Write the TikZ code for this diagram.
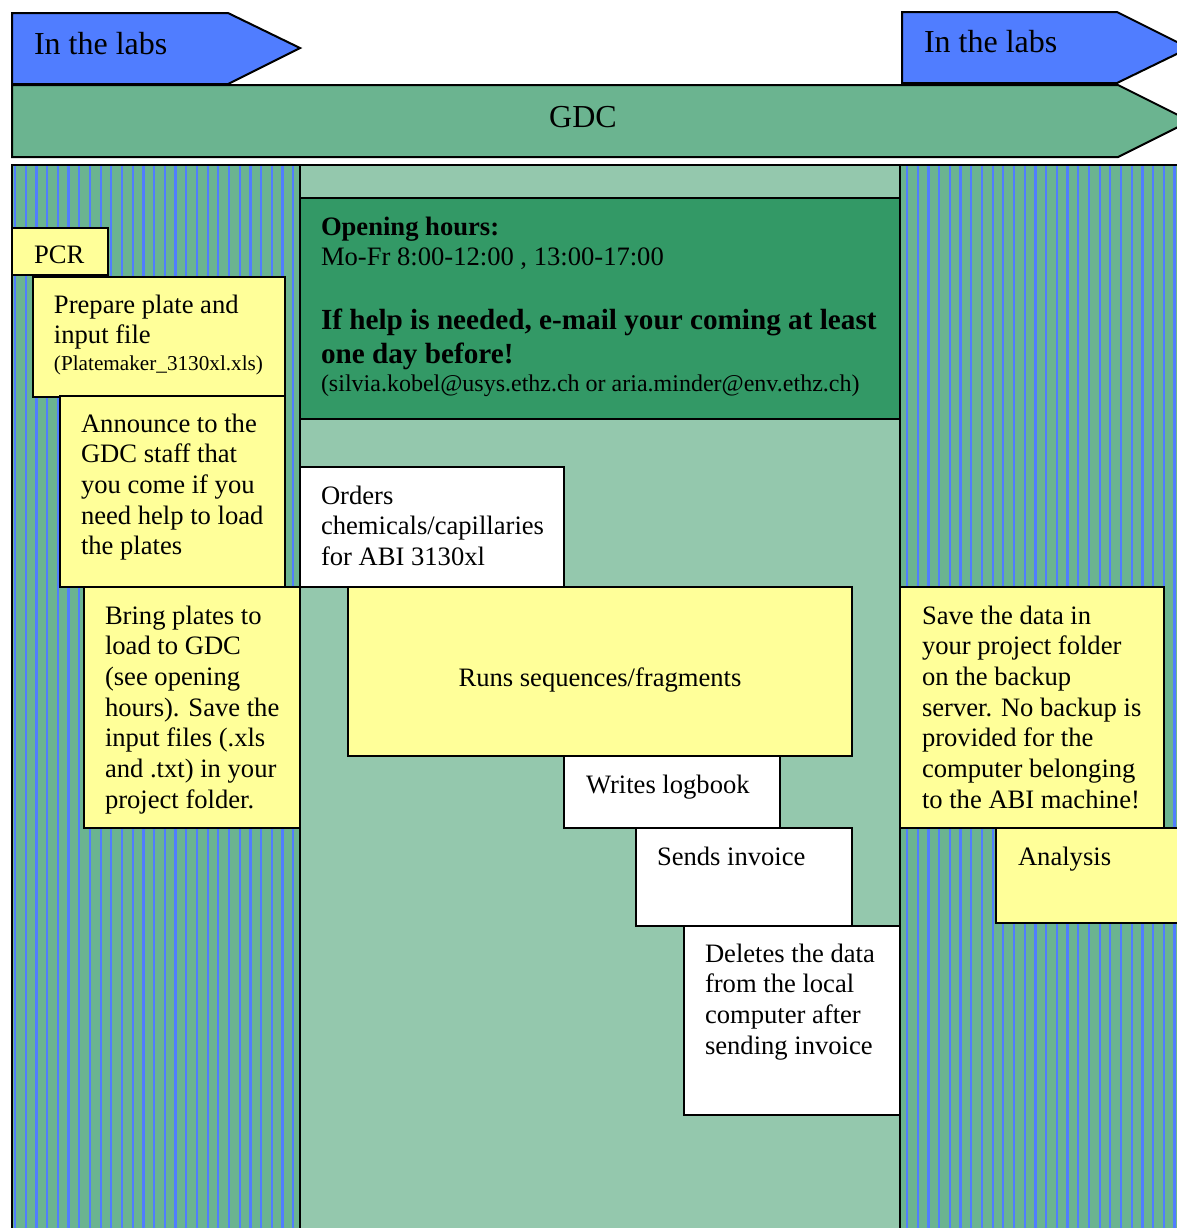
\documentclass[tikz,border=0pt]{standalone}
\usepackage{fontspec}
\setmainfont{Liberation Serif}

\definecolor{labblue}{RGB}{80,125,255}
\definecolor{gdcgreen}{RGB}{107,180,144}
\definecolor{midgreen}{RGB}{148,200,173}
\definecolor{darkgreen}{RGB}{51,153,102}
\definecolor{noteyellow}{RGB}{255,255,153}

% fixed height for the first line of a text block (10pt = 20px above its baseline)
\newcommand{\fl}{\rule{0pt}{10pt}}

\begin{document}
\begin{tikzpicture}[x=0.5pt, y=-0.5pt,
                    line width=1pt,
                    yellow box/.style={draw,fill=noteyellow},
                    white box/.style={draw,fill=white},
                    stripe/.style={labblue,line width=1.1pt},
                    box text/.style={anchor=north west,align=left,inner sep=0pt,
                                     font=\fontsize{13.3}{15.35}\selectfont},
                    big text/.style={inner sep=0pt,font=\fontsize{16}{18.4}\selectfont}]

  \useasboundingbox (0,0) rectangle (1177,1228);
  \clip (0,0) rectangle (1177,1228);
  \fill[white] (0,0) rectangle (1177,1228);

  % arrows at the top
  \draw[fill=labblue] (12,13) -- (228,13) -- (300,48) -- (228,84) -- (12,84) -- cycle;
  \draw[fill=labblue] (902,12) -- (1117,12) -- (1189,48) -- (1117,83) -- (902,83) -- cycle;
  \draw[fill=gdcgreen] (12,85) -- (1118,85) -- (1190,121) -- (1118,157) -- (12,157) -- cycle;
  \node[big text,anchor=base west] (labsL) at (33,54) {In the labs};
  \node[big text,anchor=base west] (labsR) at (923,52) {In the labs};
  \node[big text,anchor=base] (gdc) at (583,127) {GDC};

  % columns
  \fill[midgreen] (300,165) rectangle (900,1240);
  \fill[gdcgreen] (12,165) rectangle (300,1240);
  \fill[gdcgreen] (900,165) rectangle (1190,1240);
  \begin{scope}
    \clip (12,165) rectangle (300,1240);
    \foreach \i in {0,...,26}
      \draw[stripe] ({15+\i*10.7},165) -- ({15+\i*10.7},1240);
  \end{scope}
  \begin{scope}
    \clip (900,165) rectangle (1190,1240);
    \foreach \i in {0,...,26}
      \draw[stripe] ({907+\i*10.7},165) -- ({907+\i*10.7},1240);
  \end{scope}
  \draw (12,1240) -- (12,165) -- (1190,165);
  \draw (300,165) -- (300,1240);
  \draw (900,165) -- (900,1240);

  % opening hours
  \draw[fill=darkgreen] (300,198) rectangle (900,419);
  \node[box text] (hours) at (320,214) {\fl\textbf{Opening hours:}\\Mo-Fr 8:00-12:00 , 13:00-17:00};
  \node[box text,font=\bfseries\fontsize{14.6}{17}\selectfont] (help) at (320,308)
    {\fl If help is needed, e-mail your coming at least\\one day before!};
  \node[box text,font=\fontsize{12}{13.8}\selectfont] (mail) at (320,370)
    {\fl(silvia.kobel@usys.ethz.ch or aria.minder@env.ethz.ch)};

  % in the labs, before
  \draw[yellow box] (12,228) rectangle (108,275);
  \node[box text] (pcr) at (33,242) {\fl PCR};
  \draw[yellow box] (33,277) rectangle (285,397);
  \node[box text] (prep) at (53,292) {\fl Prepare plate and\\input file};
  \node[box text,font=\fontsize{10.6}{12.2}\selectfont] (platemaker) at (53,349)
    {\fl(Platemaker\_3130xl.xls)};
  \draw[yellow box] (60,396) rectangle (285,587);
  \node[box text] (announce) at (80,411)
    {\fl Announce to the\\GDC staff that\\you come if you\\need help to load\\the plates};
  \draw[yellow box] (84,587) rectangle (300,828);
  \node[box text] (bring) at (104,603)
    {\fl Bring plates to\\load to GDC\\(see opening\\hours). Save the\\input files (.xls\\and .txt) in your\\project folder.};

  % GDC
  \draw[white box] (300,467) rectangle (564,587);
  \node[box text] (orders) at (320,483) {\fl Orders\\chemicals/capillaries\\for ABI 3130xl};
  \draw[yellow box] (348,587) rectangle (852,756);
  \node[box text,anchor=base] (runs) at (600,686) {Runs sequences/fragments};
  \draw[white box] (564,756) rectangle (780,828);
  \node[box text] (log) at (585,772) {\fl Writes logbook};
  \draw[white box] (636,828) rectangle (852,926);
  \node[box text] (invoice) at (656,844) {\fl Sends invoice};
  \draw[white box] (684,926) rectangle (900,1115);
  \node[box text] (delete) at (704,941)
    {\fl Deletes the data\\from the local\\computer after\\sending invoice};

  % in the labs, after
  \draw[yellow box] (900,587) rectangle (1164,828);
  \node[box text] (save) at (921,603)
    {\fl Save the data in\\your project folder\\on the backup\\server. No backup is\\provided for the\\computer belonging\\to the ABI machine!};
  \draw[yellow box] (996,828) rectangle (1190,923);
  \node[box text] (analysis) at (1017,844) {\fl Analysis};
\end{tikzpicture}
\end{document}
